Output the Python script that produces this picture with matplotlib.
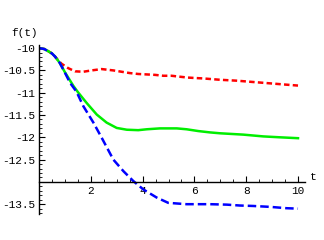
import matplotlib
matplotlib.use("Agg")
import matplotlib.pyplot as plt
from matplotlib.ticker import MultipleLocator, FixedLocator

t_red = [0, 0.2, 0.36, 0.5, 0.62, 0.75, 0.87, 1.13, 1.39, 1.71, 2.03, 2.42, 2.87, 3.19, 3.51, 3.83,
         4.16, 4.48, 4.8, 5.12, 5.42, 5.73, 6.02, 6.34, 6.99, 7.63, 8.27, 8.92, 9.56, 10.0]
f_red = [-10.0, -10.02, -10.07, -10.12, -10.19, -10.28, -10.35, -10.45, -10.52, -10.53, -10.5, -10.47, -10.5, -10.53, -10.56, -10.58,
         -10.59, -10.6, -10.62, -10.62, -10.64, -10.66, -10.67, -10.68, -10.71, -10.73, -10.76, -10.79, -10.82, -10.84]

t_green = [0, 0.2, 0.36, 0.5, 0.62, 0.8, 1.0, 1.33, 1.52, 1.84, 2.23, 2.61, 3.0, 3.39, 3.83, 4.16, 4.67,
           5.32, 5.7, 6.15, 6.6, 6.99, 7.89, 8.66, 9.3, 10.0]
f_green = [-10.0, -10.02, -10.07, -10.12, -10.19, -10.33, -10.54, -10.85, -11.0, -11.23, -11.49, -11.67, -11.79, -11.83, -11.84, -11.82, -11.8,
           -11.8, -11.82, -11.86, -11.89, -11.91, -11.94, -11.98, -12.0, -12.02]

t_blue = [0, 0.2, 0.36, 0.5, 0.62, 0.8, 1.0, 1.2, 1.45, 1.71, 2.1, 2.42, 2.87, 3.26, 3.64, 4.03, 4.54,
          4.99, 5.7, 6.6, 7.25, 7.76, 8.27, 8.92, 9.56, 10.0]
f_blue = [-10.0, -10.02, -10.07, -10.12, -10.19, -10.33, -10.55, -10.78, -10.98, -11.3, -11.67, -12.01, -12.5, -12.76, -12.98, -13.17, -13.35,
          -13.47, -13.5, -13.5, -13.51, -13.53, -13.54, -13.56, -13.59, -13.6]

xticks = [2, 4, 6, 8, 10]
yticks = [-10, -10.5, -11, -11.5, -12, -12.5, -13.5]
ytick_labels = ["-10", "-10.5", "-11", "-11.5", "-12", "-12.5", "-13.5"]

fig = plt.figure(figsize=(3.24, 2.4), dpi=100)
ax = fig.add_axes([39/324, 26/240, 266/324, 169/240])
ax.set_xlim(0, 10.27)
ax.set_ylim(-13.72, -9.93)

lw = 1.8
ax.plot(t_red, f_red, color="#ff0000", lw=lw, dashes=(2.2, 1.3))
ax.plot(t_green, f_green, color="#00ee00", lw=lw)
ax.plot(t_blue, f_blue, color="#0000ff", lw=lw, dashes=(3.4, 1.6))

for s in ["top", "right"]:
    ax.spines[s].set_visible(False)
ax.spines["left"].set_position(("data", 0))
ax.spines["bottom"].set_position(("data", -13))
ax.spines["left"].set_linewidth(1)
ax.spines["bottom"].set_linewidth(1)

ax.xaxis.set_major_locator(FixedLocator(xticks))
ax.xaxis.set_minor_locator(MultipleLocator(0.5))
ax.yaxis.set_major_locator(FixedLocator(yticks))
ax.set_yticklabels(ytick_labels)
ax.yaxis.set_minor_locator(MultipleLocator(0.1))

font = "Liberation Mono"
ax.tick_params(which="major", direction="in", length=4, width=0.8, labelsize=8, pad=3)
ax.tick_params(which="minor", direction="in", length=2, width=0.6)
for lab in ax.get_xticklabels() + ax.get_yticklabels():
    lab.set_family(font)

ax.text(10.45, -13, "t", family=font, fontsize=8, va="bottom", ha="left", clip_on=False)
ax.text(-0.05, -9.78, "f(t)", family=font, fontsize=8, va="bottom", ha="right", clip_on=False)

fig.savefig("out.png", dpi=100)
